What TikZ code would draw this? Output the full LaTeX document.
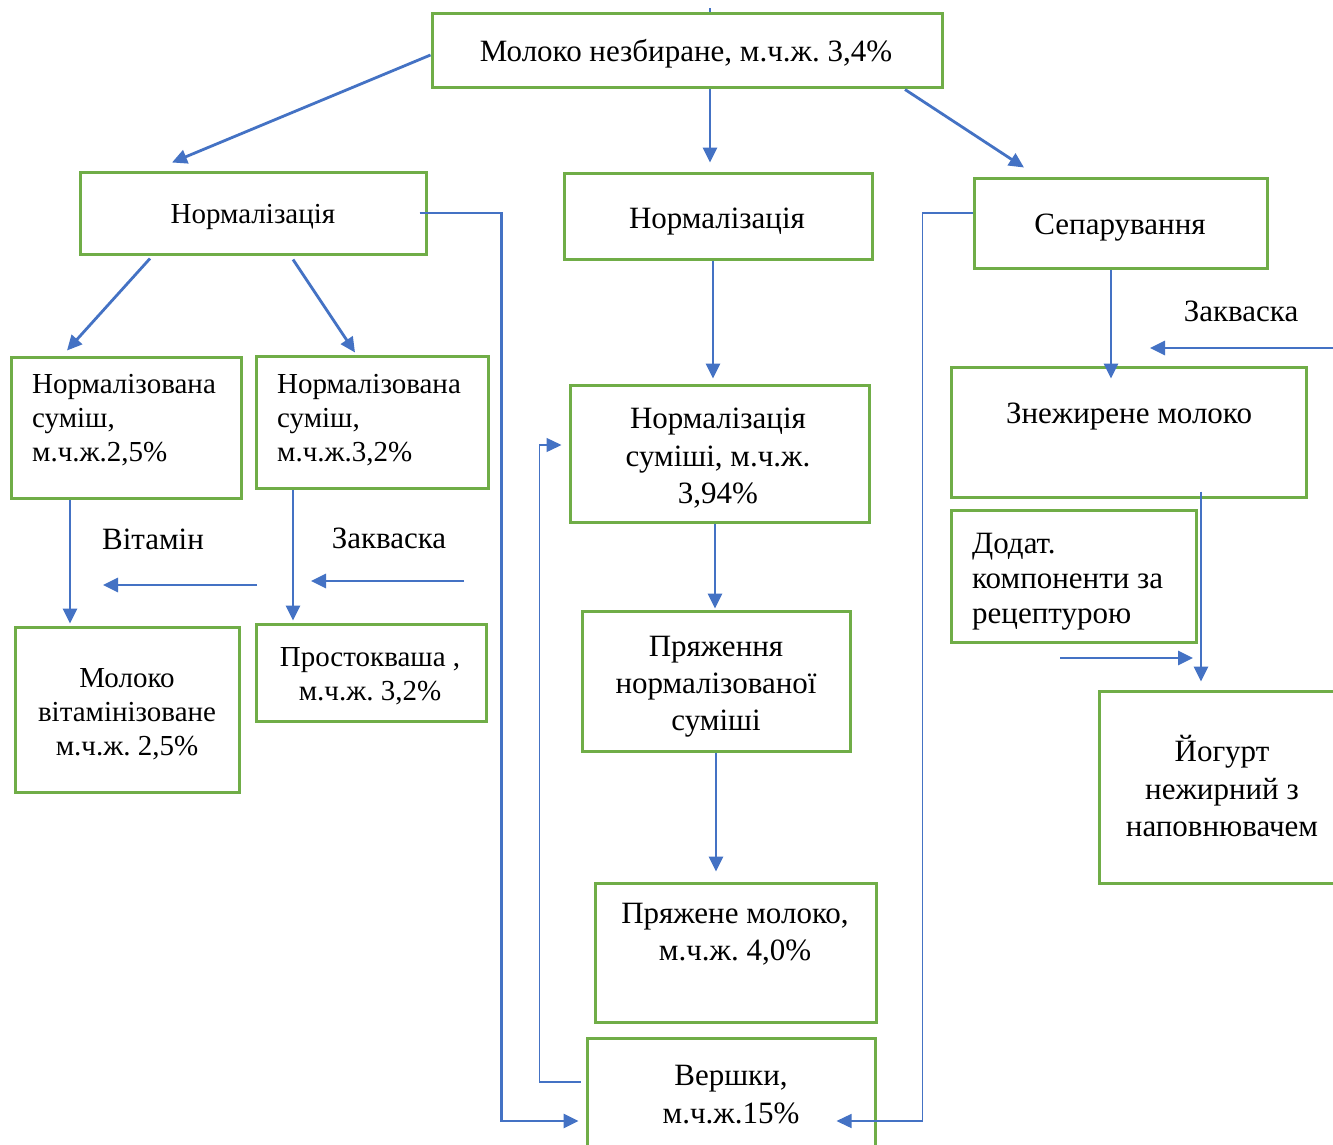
\documentclass[tikz,border=0pt]{standalone}
\usepackage{fontspec}
\setmainfont{Liberation Serif}
\frenchspacing
\usetikzlibrary{arrows.meta}
\definecolor{gbox}{HTML}{70AD47}
\definecolor{barr}{HTML}{4472C4}
\tikzset{
  box/.style={draw=gbox, line width=3pt, rectangle, inner sep=0pt},
  arr/.style={draw=barr, line width=2.8pt, -{Triangle[length=15pt,width=14pt]}},
  thinarr/.style={draw=barr, line width=1.4pt, -{Triangle[length=15pt,width=14pt]}},
  thinln/.style={draw=barr, line width=1.4pt},
  fa/.style={font=\fontsize{29}{34}\selectfont},
  fb/.style={font=\fontsize{31}{37}\selectfont},
  txt/.style={inner sep=0pt, anchor=base},
  txtl/.style={inner sep=0pt, anchor=base west},
}
\begin{document}
\begin{tikzpicture}[x=1pt,y=-1pt]
\clip (0,0) rectangle (1333,1144);
\fill[white] (0,0) rectangle (1333,1144);

% boxes
\node[box, minimum width=510, minimum height=74] (top) at (687,50) {};
\node[box, minimum width=346, minimum height=82] (normL) at (253,213) {};
\node[box, minimum width=308, minimum height=86] (normM) at (718,216) {};
\node[box, minimum width=293, minimum height=90] (sep) at (1120.5,223) {};
\node[box, minimum width=230, minimum height=141] (ns25) at (126,427.5) {};
\node[box, minimum width=232, minimum height=132] (ns32) at (372,422) {};
\node[box, minimum width=224, minimum height=165] (vit) at (127,709.5) {};
\node[box, minimum width=230, minimum height=97] (prost) at (371,672.5) {};
\node[box, minimum width=299, minimum height=137] (nsum) at (719.5,453.5) {};
\node[box, minimum width=268, minimum height=140] (pryazh) at (716,681) {};
\node[box, minimum width=281, minimum height=139] (pryazhene) at (735.5,952.5) {};
\node[box, minimum width=288, minimum height=124] (versh) at (731,1100) {};
\node[box, minimum width=355, minimum height=130] (znezh) at (1128.5,432) {};
\node[box, minimum width=245, minimum height=132] (dodat) at (1073.5,576) {};
\node[box, minimum width=246, minimum height=192] (yog) at (1222,787) {};

% texts
\node[txt, fb] (ttop) at (686,61) {Молоко незбиране, м.ч.ж. 3,4\%};
\node[txt, fa] (tnormL) at (253,223) {Нормалізація};
\node[txt, fb] (tnormM) at (717,228) {Нормалізація};
\node[txt, fb] (tsep) at (1120,234) {Сепарування};
\node[txtl, fa] (tns25a) at (32,393) {Нормалізована};
\node[txtl, fa] (tns25b) at (32,427) {суміш,};
\node[txtl, fa] (tns25c) at (32,461) {м.ч.ж.2,5\%};
\node[txtl, fa] (tns32a) at (277,393) {Нормалізована};
\node[txtl, fa] (tns32b) at (277,427) {суміш,};
\node[txtl, fa] (tns32c) at (277,461) {м.ч.ж.3,2\%};
\node[txt, fa] (tvita) at (127,687) {Молоко};
\node[txt, fa] (tvitb) at (127,721) {вітамінізоване};
\node[txt, fa] (tvitc) at (127,755) {м.ч.ж. 2,5\%};
\node[txt, fa] (tprosta) at (370,666) {Простокваша ,};
\node[txt, fa] (tprostb) at (370,700) {м.ч.ж. 3,2\%};
\node[txt, fb] (tnsuma) at (718,428) {Нормалізація};
\node[txt, fb] (tnsumb) at (718,466) {суміші, м.ч.ж.};
\node[txt, fb] (tnsumc) at (718,503) {3,94\%};
\node[txt, fb] (tpra) at (716,656) {Пряження};
\node[txt, fb] (tprb) at (716,693) {нормалізованої};
\node[txt, fb] (tprc) at (716,730) {суміші};
\node[txt, fb] (tpma) at (735,923) {Пряжене молоко,};
\node[txt, fb] (tpmb) at (735,960) {м.ч.ж. 4,0\%};
\node[txt, fb] (tvea) at (731,1085) {Вершки,};
\node[txt, fb] (tveb) at (731,1123) {м.ч.ж.15\%};
\node[txt, fb] (tzn) at (1129,423) {Знежирене молоко};
\node[txtl, fb] (tda) at (972,553) {Додат.};
\node[txtl, fb] (tdb) at (972,588) {компоненти за};
\node[txtl, fb] (tdc) at (972,623) {рецептурою};
\node[txt, fb] (tya) at (1222,761) {Йогурт};
\node[txt, fb] (tyb) at (1222,799) {нежирний з};
\node[txt, fb] (tyc) at (1222,836) {наповнювачем};
\node[txt, fb] (lvit) at (153,549) {Вітамін};
\node[txt, fb] (lzak1) at (389,548) {Закваска};
\node[txt, fb] (lzak2) at (1241,321) {Закваска};

% free ends
\coordinate (vitS) at (257,585);
\coordinate (vitE) at (103,585);
\coordinate (zak1S) at (464,581);
\coordinate (zak1E) at (311,581);
\coordinate (zak2S) at (1333,348);
\coordinate (zak2E) at (1150,348);
\coordinate (dodS) at (1060,658);
\coordinate (dodE) at (1193,658);

% connectors
\draw[thinln] ([xshift=23]top.north) -- ++(0,-4);
\draw[arr] ([yshift=-5]top.west) -- ([xshift=-81,yshift=8]normL.north);
\draw[arr] ([xshift=23]top.south) -- ([xshift=-8,yshift=9]normM.north);
\draw[arr] ([xshift=218,yshift=-1]top.south) -- ([xshift=-96.5,yshift=9]sep.north);
\draw[arr] ([xshift=-103,yshift=-3]normL.south) -- ([xshift=-59,yshift=5]ns25.north);
\draw[arr] ([xshift=40,yshift=-4]normL.south) -- ([xshift=-17,yshift=2]ns32.north);
\draw[arr] ([xshift=-8]normL.east) -- ++(82,0) |- ([xshift=-7,yshift=-21]versh.west);
\draw[arr] ([xshift=-5]normM.south) -- ([xshift=-6.5,yshift=5]nsum.north);
\draw[arr] ([xshift=-56]ns25.south) -- ([xshift=-57,yshift=2]vit.north);
\draw[arr] ([xshift=-79]ns32.south) -- ([xshift=-78,yshift=2]prost.north);
\draw[arr] (vitS) -- (vitE);
\draw[arr] (zak1S) -- (zak1E);
\draw[arr] ([xshift=-4.5]nsum.south) -- ([xshift=-1,yshift=1]pryazh.north);
\draw[arr] (pryazh.south) -- ([xshift=-19.5,yshift=10]pryazhene.north);
\draw[thinarr] ([xshift=-5,yshift=18]versh.west) -- ++(-41,0) |- ([xshift=-7,yshift=8.5]nsum.west);
\draw[thinarr] ([yshift=10]sep.west) -- ++(-50,0) |- ([xshift=-40,yshift=-21]versh.east);
\draw[arr] ([xshift=-9.5]sep.south) -- ([xshift=-17.5,yshift=-13]znezh.north);
\draw[arr] (zak2S) -- (zak2E);
\draw[arr] ([xshift=72.5,yshift=7]znezh.south) -- ([xshift=-21,yshift=8]yog.north);
\draw[arr] (dodS) -- (dodE);
\end{tikzpicture}
\end{document}
